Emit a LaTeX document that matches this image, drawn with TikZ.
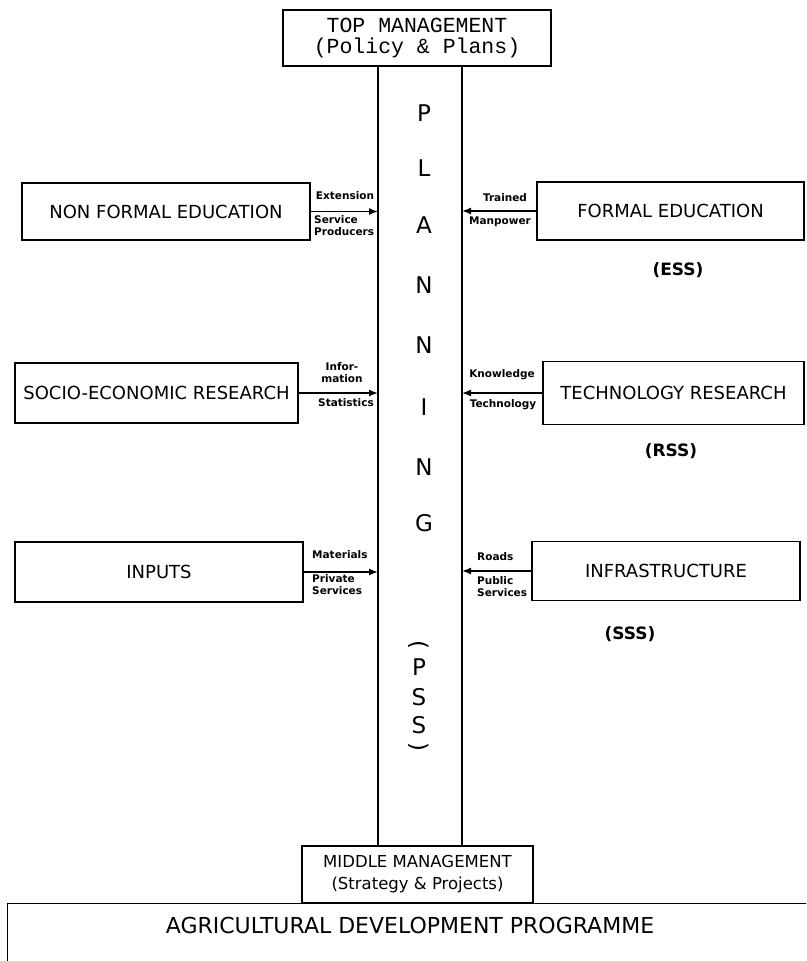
\documentclass[tikz,border=0pt]{standalone}
\usepackage{fontspec}
\setmainfont{DejaVu Sans}
\setmonofont{Liberation Mono}
\usetikzlibrary{arrows.meta}

\begin{document}
\begin{tikzpicture}[x=1pt, y=-1pt,
	box/.style = {draw, line width=1.4pt, inner sep=0pt, align=center, font=\fontsize{18}{20}\selectfont},
	flow/.style = {line width=1.4pt, -{Latex[length=9pt,width=7pt]}},
	tag/.style = {inner sep=0pt, align=left, font=\bfseries\fontsize{10.5}{12}\selectfont},
	letter/.style = {inner sep=0pt, font=\fontsize{23}{23}\selectfont},
	sub/.style = {font=\bfseries\fontsize{17}{20}\selectfont},
	col/.style = {line width=1.6pt}]
	\useasboundingbox (0,0) rectangle (806,961);
	\clip (0,0) rectangle (806,961);
	\coordinate (lcol) at (378,0);
	\coordinate (rcol) at (462,0);

	\node[box, font=\ttfamily\fontsize{21.5}{21}\selectfont, minimum width=268, minimum height=56] (top) at (417,38) {TOP MANAGEMENT\\(Policy \& Plans)};
	\node[box, minimum width=231, minimum height=57, font=\fontsize{16.5}{22}\selectfont] (mid) at (417.5,874.5) {MIDDLE MANAGEMENT\\(Strategy \& Projects)};
	\node[box, anchor=north west, minimum width=830, minimum height=90] (adp) at (7,903) {};
	\node[font=\fontsize{22}{24}\selectfont] (adptxt) at (410,925) {AGRICULTURAL DEVELOPMENT PROGRAMME};

	\draw[col] (top.south -| lcol) -- (mid.north -| lcol);
	\draw[col] (top.south -| rcol) -- (mid.north -| rcol);

	\node[box, minimum width=288, minimum height=57] (nfe) at (166,211.5) {NON FORMAL EDUCATION};
	\node[box, minimum width=283, minimum height=60] (socio) at (156.5,393) {SOCIO-ECONOMIC RESEARCH};
	\node[box, minimum width=288, minimum height=60] (inputs) at (159,572) {INPUTS};
	\node[box, minimum width=267, minimum height=58] (fe) at (670.5,211) {FORMAL EDUCATION};
	\node[box, minimum width=261, minimum height=63] (tech) at (673.5,393) {TECHNOLOGY RESEARCH};
	\node[box, minimum width=268, minimum height=59] (infra) at (666,571) {INFRASTRUCTURE};

	\node[sub] (ess) at (678,270) {(ESS)};
	\node[sub] (rss) at (671,451) {(RSS)};
	\node[sub] (sss) at (630,634) {(SSS)};

	\draw[flow] (nfe.east) -- (nfe.east -| lcol);
	\draw[flow] (socio.east) -- (socio.east -| lcol);
	\draw[flow] (inputs.east) -- (inputs.east -| lcol);
	\draw[flow] (fe.west) -- (fe.west -| rcol);
	\draw[flow] (tech.west) -- (tech.west -| rcol);
	\draw[flow] (infra.west) -- (infra.west -| rcol);

	\node[tag] (ext) at (345,196) {Extension};
	\node[tag, anchor=north west] (serv) at (314,215) {Service\\Producers};
	\node[tag, align=center] (info) at (342,373) {Infor-\\mation};
	\node[tag] (stat) at (346,403) {Statistics};
	\node[tag, anchor=west] (mat) at (312,555) {Materials};
	\node[tag, anchor=north west] (priv) at (312,574) {Private\\Services};
	\node[tag] (train) at (505,198) {Trained};
	\node[tag] (manp) at (500,222) {Manpower};
	\node[tag] (know) at (502,375) {Knowledge};
	\node[tag] (techn) at (503,405) {Technology};
	\node[tag, anchor=west] (roads) at (477,557) {Roads};
	\node[tag, anchor=north west] (pub) at (477,576) {Public\\Services};

	\foreach \l/\y in {P/113, L/168, A/225, N/285, N/345, I/407, N/467, G/523}{
		\node[letter] (pl\y) at (424,\y) {\l};
	}
	\node[letter, rotate=-90] (pso) at (419,645) {(};
	\foreach \l/\y in {P/667, S/697, S/725}{
		\node[letter] (ps\y) at (419,\y) {\l};
	}
	\node[letter, rotate=-90] (psc) at (419,747) {)};
\end{tikzpicture}
\end{document}
